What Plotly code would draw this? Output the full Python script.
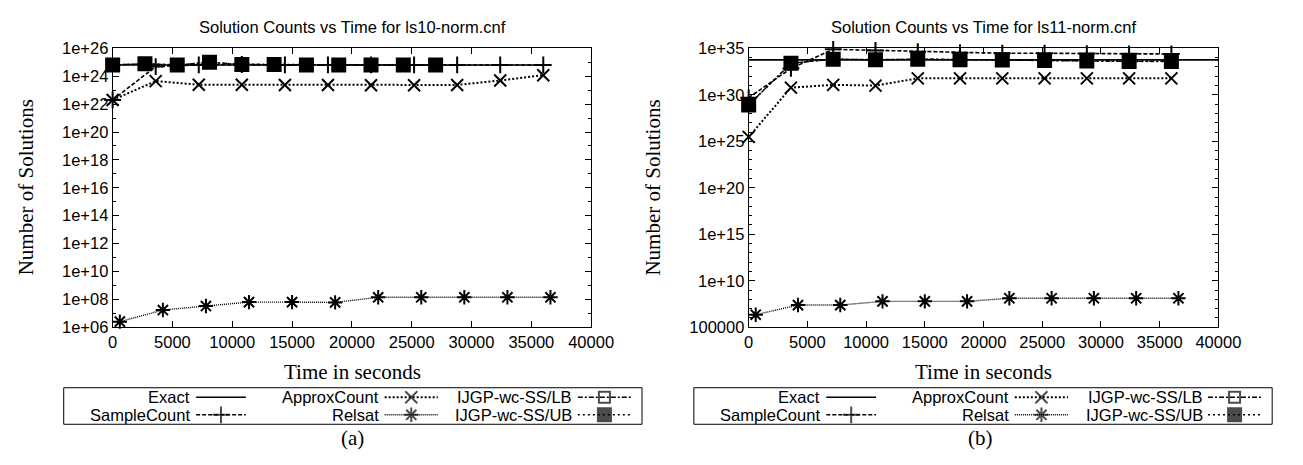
import plotly.graph_objects as go

W, H = 1303, 465

# ---------------- data: ls10-norm.cnf ----------------
t_exact_a = [0, 36000]
exact_a = [6.5e24, 6.5e24]

t_sample_a = [0, 3600, 7200, 10800, 14400, 18000, 21600, 25200, 28800, 32400, 36000]
sample_a = [2e22, 5e24, 6.5e24, 7e24, 6.5e24, 6.5e24, 6.5e24, 6.5e24, 6.5e24, 6.5e24, 6.5e24]

t_approx_a = [0, 3600, 7200, 10800, 14400, 18000, 21600, 25200, 28800, 32400, 36000]
approx_a = [2e22, 4.5e23, 2.5e23, 2.5e23, 2.4e23, 2.4e23, 2.3e23, 2.3e23, 2.4e23, 5e23, 1.2e24]

t_relsat_a = [600, 4200, 7800, 11400, 15000, 18600, 22200, 25800, 29400, 33000, 36600]
relsat_a = [2.5e6, 1.7e7, 3.3e7, 6.3e7, 6.3e7, 6e7, 1.4e8, 1.4e8, 1.4e8, 1.4e8, 1.4e8]

t_ijgp_a = [0, 2700, 5400, 8100, 10800, 13500, 16200, 18900, 21600, 24300, 27000]
ijgp_lb_a = [6.5e24, 8e24, 6.5e24, 1e25, 7e24, 7e24, 6.5e24, 6.5e24, 6.5e24, 6.5e24, 6.5e24]
ijgp_ub_a = [6.5e24, 8e24, 6.5e24, 1e25, 7e24, 7e24, 6.5e24, 6.5e24, 6.5e24, 6.5e24, 6.5e24]

# ---------------- data: ls11-norm.cnf ----------------
t_exact_b = [0, 40000]
exact_b = [5.8e33, 5.8e33]

t_sample_b = [0, 3600, 7200, 10800, 14400, 18000, 21600, 25200, 28800, 32400, 36000]
sample_b = [5e29, 7e32, 8e34, 6e34, 4.5e34, 3.5e34, 3e34, 3e34, 2.8e34, 2.6e34, 2.5e34]

t_approx_b = [0, 3600, 7200, 10800, 14400, 18000, 21600, 25200, 28800, 32400, 36000]
approx_b = [3e25, 6e30, 1.2e31, 1e31, 6e31, 6e31, 6e31, 6e31, 6e31, 6e31, 6e31]

t_relsat_b = [600, 4200, 7800, 11400, 15000, 18600, 22200, 25800, 29400, 33000, 36600]
relsat_b = [2.2e6, 2.4e7, 2.4e7, 6e7, 6e7, 6e7, 1.3e8, 1.3e8, 1.3e8, 1.3e8, 1.3e8]

t_ijgp_b = [0, 3600, 7200, 10800, 14400, 18000, 21600, 25200, 28800, 32400, 36000]
ijgp_lb_b = [8e28, 2.5e33, 7e33, 6e33, 7e33, 6e33, 5.5e33, 5e33, 4.5e33, 4e33, 4e33]
ijgp_ub_b = [8e28, 2.5e33, 7e33, 6e33, 7e33, 6e33, 5.5e33, 5e33, 4.5e33, 4e33, 4e33]

# ---------------- axis ticks ----------------
x_ticks = [0, 5000, 10000, 15000, 20000, 25000, 30000, 35000, 40000]
x_ticklabels = ["0", "5000", "10000", "15000", "20000", "25000", "30000", "35000", "40000"]

y_exp_a = [6, 8, 10, 12, 14, 16, 18, 20, 22, 24, 26]
y_ticklabels_a = ["1e+06", "1e+08", "1e+10", "1e+12", "1e+14", "1e+16",
                  "1e+18", "1e+20", "1e+22", "1e+24", "1e+26"]
y_minor_exp_a = [7, 9, 11, 13, 15, 17, 19, 21, 23, 25]

y_exp_b = [5, 10, 15, 20, 25, 30, 35]
y_ticklabels_b = ["100000", "1e+10", "1e+15", "1e+20", "1e+25", "1e+30", "1e+35"]
y_minor_exp_b = [e for e in range(6, 35) if e % 5 != 0]

# ---------------- styles ----------------
SANS = "Liberation Sans"
SERIF = "Liberation Serif"
BLACK = "black"

styles = {
    "Exact": dict(dash="solid", width=1.6, symbol=None, msize=0),
    "SampleCount": dict(dash="4px,2px", width=1.6, symbol="cross-thin-open", msize=12),
    "ApproxCount": dict(dash="2px,2px", width=2.0, symbol="x-thin-open", msize=12),
    "Relsat": dict(dash="1px,1px", width=1.4, symbol="asterisk-open", msize=12),
    "IJGP-wc-SS/LB": dict(dash="5px,2px,2px,2px", width=1.4, symbol="square-open", msize=11),
    "IJGP-wc-SS/UB": dict(dash="2px,3px", width=1.6, symbol="square", msize=13),
}

# pixel layout
def px_x(p):
    return p / W

def px_y(p):
    return 1 - p / H

PLOT_TOP, PLOT_BOT = 41, 331
LEFT_X = (110, 599)
RIGHT_X = (760, 1240)
LEG_Y = (394, 432)
LEG_A_X = (60, 651)
LEG_B_X = (704, 1295)

TICK_FS = 16.5
TITLE_FS = 16.5
LABEL_FS = 21
LEGEND_FS = 16.5

fig = go.Figure()


def add_series(t, v, name, xa, ya):
    st = styles[name]
    mode = "lines" if st["symbol"] is None else "lines+markers"
    marker = None
    if st["symbol"] is not None:
        marker = dict(symbol=st["symbol"], size=st["msize"], color=BLACK,
                      line=dict(color=BLACK, width=2))
    fig.add_trace(go.Scatter(
        x=t, y=v, name=name, mode=mode, xaxis=xa, yaxis=ya,
        line=dict(color=BLACK, width=st["width"], dash=st["dash"]),
        marker=marker, showlegend=False, cliponaxis=False,
    ))


panel_a = [
    (t_exact_a, exact_a, "Exact"),
    (t_sample_a, sample_a, "SampleCount"),
    (t_approx_a, approx_a, "ApproxCount"),
    (t_relsat_a, relsat_a, "Relsat"),
    (t_ijgp_a, ijgp_lb_a, "IJGP-wc-SS/LB"),
    (t_ijgp_a, ijgp_ub_a, "IJGP-wc-SS/UB"),
]
panel_b = [
    (t_exact_b, exact_b, "Exact"),
    (t_sample_b, sample_b, "SampleCount"),
    (t_approx_b, approx_b, "ApproxCount"),
    (t_relsat_b, relsat_b, "Relsat"),
    (t_ijgp_b, ijgp_lb_b, "IJGP-wc-SS/LB"),
    (t_ijgp_b, ijgp_ub_b, "IJGP-wc-SS/UB"),
]
for t, v, n in panel_a:
    add_series(t, v, n, "x", "y")
for t, v, n in panel_b:
    add_series(t, v, n, "x2", "y2")

# ---------------- legend keys (text, then line sample with marker) ----------------
legend_layout = [
    # name, column text end, sample start, sample end, row
    ("Exact", 0.221, 0.229, 0.315, 0.74),
    ("SampleCount", 0.221, 0.229, 0.315, 0.26),
    ("ApproxCount", 0.548, 0.555, 0.647, 0.74),
    ("Relsat", 0.548, 0.555, 0.647, 0.26),
    ("IJGP-wc-SS/LB", 0.883, 0.889, 0.981, 0.74),
    ("IJGP-wc-SS/UB", 0.883, 0.889, 0.981, 0.26),
]

annotations = []
for xa, ya in (("x3", "y3"), ("x4", "y4")):
    for name, tx, s0, s1, row in legend_layout:
        st = styles[name]
        annotations.append(dict(
            x=tx, y=row, xref=xa, yref=ya, text=name, showarrow=False,
            xanchor="right", yanchor="middle",
            font=dict(family=SANS, size=LEGEND_FS, color=BLACK),
        ))
        marker = dict(size=[0, st["msize"], 0], symbol=st["symbol"] or "circle",
                      color=BLACK, line=dict(color=BLACK, width=2))
        fig.add_trace(go.Scatter(
            x=[s0, (s0 + s1) / 2, s1], y=[row, row, row], xaxis=xa, yaxis=ya,
            mode="lines+markers" if st["symbol"] else "lines",
            line=dict(color=BLACK, width=st["width"], dash=st["dash"]),
            marker=marker, showlegend=False, cliponaxis=False, hoverinfo="skip",
        ))

# titles, axis titles, captions
for cx, title in ((355, "Solution Counts vs Time for ls10-norm.cnf"),
                  (1000, "Solution Counts vs Time for ls11-norm.cnf")):
    annotations.append(dict(x=px_x(cx), y=px_y(19), xref="paper", yref="paper",
                            text=title, showarrow=False, xanchor="center", yanchor="middle",
                            font=dict(family=SANS, size=TITLE_FS, color=BLACK)))
    annotations.append(dict(x=px_x(cx), y=px_y(378), xref="paper", yref="paper",
                            text="Time in seconds", showarrow=False, xanchor="center",
                            yanchor="middle", font=dict(family=SERIF, size=LABEL_FS, color=BLACK)))
for cx, cap in ((355, "(a)"), (997, "(b)")):
    annotations.append(dict(x=px_x(cx), y=px_y(446), xref="paper", yref="paper",
                            text=cap, showarrow=False, xanchor="center", yanchor="middle",
                            font=dict(family=SERIF, size=21, color=BLACK)))
for cx in (21, 662):
    annotations.append(dict(x=px_x(cx), y=px_y(186), xref="paper", yref="paper",
                            text="Number of Solutions", showarrow=False, textangle=-90,
                            xanchor="center", yanchor="middle",
                            font=dict(family=SERIF, size=LABEL_FS, color=BLACK)))

base_axis = dict(
    showline=True, linecolor=BLACK, linewidth=1, mirror="ticks",
    ticks="inside", ticklen=6, tickcolor=BLACK, tickwidth=1,
    showgrid=False, zeroline=False,
    tickfont=dict(family=SANS, size=TICK_FS, color=BLACK),
)

y_dom = [px_y(PLOT_BOT), px_y(PLOT_TOP)]

fig.update_layout(
    width=W, height=H,
    margin=dict(l=0, r=0, t=0, b=0),
    paper_bgcolor="white", plot_bgcolor="white",
    showlegend=False,
    xaxis=dict(base_axis, domain=[px_x(LEFT_X[0]), px_x(LEFT_X[1])], range=[0, 40000],
               tickvals=x_ticks, ticktext=x_ticklabels, anchor="y"),
    yaxis=dict(base_axis, domain=y_dom, type="log", range=[6, 26],
               tickvals=[10.0 ** e for e in y_exp_a], ticktext=y_ticklabels_a, anchor="x",
               minor=dict(tickvals=[10.0 ** e for e in y_minor_exp_a], ticks="inside",
                          ticklen=3, tickcolor=BLACK)),
    xaxis2=dict(base_axis, domain=[px_x(RIGHT_X[0]), px_x(RIGHT_X[1])], range=[0, 40000],
                tickvals=x_ticks, ticktext=x_ticklabels, anchor="y2"),
    yaxis2=dict(base_axis, domain=y_dom, type="log", range=[5, 35],
                tickvals=[10.0 ** e for e in y_exp_b], ticktext=y_ticklabels_b, anchor="x2",
                minor=dict(tickvals=[10.0 ** e for e in y_minor_exp_b], ticks="inside",
                           ticklen=3, tickcolor=BLACK)),
    xaxis3=dict(domain=[px_x(LEG_A_X[0]), px_x(LEG_A_X[1])], range=[0, 1], visible=False,
                anchor="y3", fixedrange=True),
    yaxis3=dict(domain=[px_y(LEG_Y[1]), px_y(LEG_Y[0])], range=[0, 1], visible=False,
                anchor="x3", fixedrange=True),
    xaxis4=dict(domain=[px_x(LEG_B_X[0]), px_x(LEG_B_X[1])], range=[0, 1], visible=False,
                anchor="y4", fixedrange=True),
    yaxis4=dict(domain=[px_y(LEG_Y[1]), px_y(LEG_Y[0])], range=[0, 1], visible=False,
                anchor="x4", fixedrange=True),
    annotations=annotations,
    shapes=[
        dict(type="rect", xref="x3 domain", yref="y3 domain", x0=0, x1=1, y0=0, y1=1,
             line=dict(color=BLACK, width=1)),
        dict(type="rect", xref="x4 domain", yref="y4 domain", x0=0, x1=1, y0=0, y1=1,
             line=dict(color=BLACK, width=1)),
    ],
)

fig.write_html("out.html")
